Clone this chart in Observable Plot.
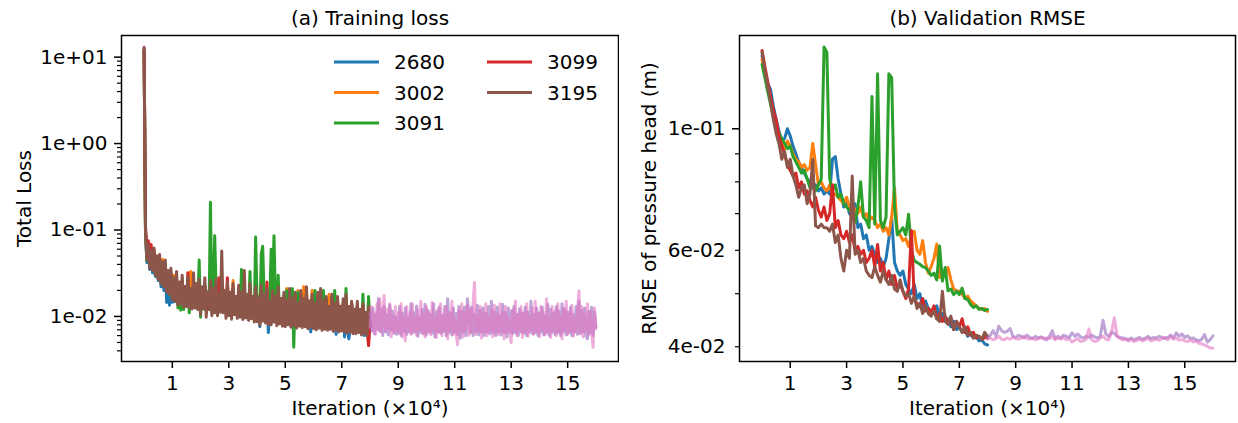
<!DOCTYPE html>
<html>
<head>
<meta charset="utf-8">
<script src="https://cdn.jsdelivr.net/npm/d3@7"></script>
<script src="https://cdn.jsdelivr.net/npm/@observablehq/plot@0.6"></script>
<style>
  body { margin: 0; background: #fff; }
  #wrap { position: relative; width: 1238px; height: 423px; display: flex; background: #fff; }
  #legend { position: absolute; left: 0; top: 0; pointer-events: none; }
</style>
</head>
<body>
<div id="wrap"></div>
<script>
// ---------- data ----------
const seriesNames = ["2680", "3002", "3091", "3099", "3195"];
const seriesColors = ["#1f77b4", "#ff7f0e", "#2ca02c", "#d62728", "#8c564b"];
const extraColors = ["#9467bd", "#e377c2"];

// validation checkpoints (x10^4 iterations)
const iterA = [0,0.1,0.2,0.3,0.4,0.5,0.6,0.7,0.8,0.9,1,1.1,1.2,1.3,1.4,1.5,1.6,1.7,1.8,1.9,2,2.1,2.2,2.3,2.4,2.5,2.6,2.7,2.8,2.9,3,3.1,3.2,3.3,3.4,3.5,3.6,3.7,3.8,3.9,4,4.1,4.2,4.3,4.4,4.5,4.6,4.7,4.8,4.9,5,5.1,5.2,5.3,5.4,5.5,5.6,5.7,5.8,5.9,6,6.1,6.2,6.3,6.4,6.5,6.6,6.7,6.8,6.9,7,7.1,7.2,7.3,7.4,7.5,7.6,7.7,7.8,7.9,8];
const iterB = [8,8.1,8.2,8.3,8.4,8.5,8.6,8.7,8.8,8.9,9,9.1,9.2,9.3,9.4,9.5,9.6,9.7,9.8,9.9,10,10.1,10.2,10.3,10.4,10.5,10.6,10.7,10.8,10.9,11,11.1,11.2,11.3,11.4,11.5,11.6,11.7,11.8,11.9,12,12.1,12.2,12.3,12.4,12.5,12.6,12.7,12.8,12.9,13,13.1,13.2,13.3,13.4,13.5,13.6,13.7,13.8,13.9,14,14.1,14.2,14.3,14.4,14.5,14.6,14.7,14.8,14.9,15,15.1,15.2,15.3,15.4,15.5,15.6,15.7,15.8,15.9,16];
// training-loss log points (x10^4 iterations)
const iterL = [0,0.05,0.1,0.15,0.2,0.25,0.3,0.35,0.4,0.45,0.5,0.55,0.6,0.65,0.7,0.75,0.8,0.85,0.9,0.95,1,1.05,1.1,1.15,1.2,1.25,1.3,1.35,1.4,1.45,1.5,1.55,1.6,1.65,1.7,1.75,1.8,1.85,1.9,1.95,2,2.05,2.1,2.15,2.2,2.25,2.3,2.35,2.4,2.45,2.5,2.55,2.6,2.65,2.7,2.75,2.8,2.85,2.9,2.95,3,3.05,3.1,3.15,3.2,3.25,3.3,3.35,3.4,3.45,3.5,3.55,3.6,3.65,3.7,3.75,3.8,3.85,3.9,3.95,4,4.05,4.1,4.15,4.2,4.25,4.3,4.35,4.4,4.45,4.5,4.55,4.6,4.65,4.7,4.75,4.8,4.85,4.9,4.95,5,5.05,5.1,5.15,5.2,5.25,5.3,5.35,5.4,5.45,5.5,5.55,5.6,5.65,5.7,5.75,5.8,5.85,5.9,5.95,6,6.05,6.1,6.15,6.2,6.25,6.3,6.35,6.4,6.45,6.5,6.55,6.6,6.65,6.7,6.75,6.8,6.85,6.9,6.95,7,7.05,7.1,7.15,7.2,7.25,7.3,7.35,7.4,7.45,7.5,7.55,7.6,7.65,7.7,7.75,7.8,7.85,7.9,7.95,8];
const iterLB = [8,8.05,8.1,8.15,8.2,8.25,8.3,8.35,8.4,8.45,8.5,8.55,8.6,8.65,8.7,8.75,8.8,8.85,8.9,8.95,9,9.05,9.1,9.15,9.2,9.25,9.3,9.35,9.4,9.45,9.5,9.55,9.6,9.65,9.7,9.75,9.8,9.85,9.9,9.95,10,10.05,10.1,10.15,10.2,10.25,10.3,10.35,10.4,10.45,10.5,10.55,10.6,10.65,10.7,10.75,10.8,10.85,10.9,10.95,11,11.05,11.1,11.15,11.2,11.25,11.3,11.35,11.4,11.45,11.5,11.55,11.6,11.65,11.7,11.75,11.8,11.85,11.9,11.95,12,12.05,12.1,12.15,12.2,12.25,12.3,12.35,12.4,12.45,12.5,12.55,12.6,12.65,12.7,12.75,12.8,12.85,12.9,12.95,13,13.05,13.1,13.15,13.2,13.25,13.3,13.35,13.4,13.45,13.5,13.55,13.6,13.65,13.7,13.75,13.8,13.85,13.9,13.95,14,14.05,14.1,14.15,14.2,14.25,14.3,14.35,14.4,14.45,14.5,14.55,14.6,14.65,14.7,14.75,14.8,14.85,14.9,14.95,15,15.05,15.1,15.15,15.2,15.25,15.3,15.35,15.4,15.45,15.5,15.55,15.6,15.65,15.7,15.75,15.8,15.85,15.9,15.95,16];

// (a) training loss
const loss2680 = [12,0.095,0.042,0.06,0.035,0.052,0.032,0.05,0.029,0.045,
 0.026,0.042,0.022,0.04,0.02,0.036,0.0145,0.032,0.0135,0.03,
 0.0145,0.027,0.0148,0.026,0.0142,0.024,0.014,0.025,0.0135,0.022,
 0.0132,0.024,0.013,0.021,0.0128,0.023,0.0128,0.022,0.0125,0.021,
 0.012,0.021,0.0122,0.022,0.0118,0.019,0.012,0.021,0.0115,0.02,
 0.0115,0.021,0.0112,0.019,0.0115,0.02,0.0112,0.019,0.011,0.021,
 0.0105,0.018,0.0104,0.02,0.0106,0.017,0.0102,0.02,0.0104,0.018,
 0.0098,0.02,0.01,0.017,0.0097,0.02,0.0098,0.017,0.0095,0.019,
 0.0093,0.016,0.0076,0.019,0.0093,0.017,0.009,0.018,0.0065,0.015,
 0.0087,0.018,0.009,0.016,0.0087,0.019,0.0088,0.016,0.0085,0.017,
 0.0083,0.015,0.0085,0.018,0.0082,0.016,0.0084,0.017,0.008,0.014,
 0.0082,0.018,0.008,0.016,0.0081,0.017,0.0079,0.015,0.0066,0.016,
 0.0078,0.014,0.0076,0.017,0.0078,0.016,0.0076,0.015,0.0077,0.016,
 0.0075,0.013,0.0076,0.016,0.0074,0.014,0.0062,0.015,0.0073,0.013,
 0.0073,0.014,0.0058,0.015,0.007,0.0055,0.0071,0.014,0.0069,0.012,
 0.0068,0.013,0.007,0.012,0.0067,0.013,0.006,0.011,0.0066,0.012,
 0.008];
const loss3002 = [12,0.1,0.05,0.065,0.04,0.056,0.036,0.052,0.032,0.048,
 0.029,0.045,0.026,0.046,0.024,0.039,0.021,0.034,0.019,0.031,
 0.017,0.03,0.016,0.027,0.015,0.024,0.0145,0.026,0.014,0.022,
 0.0135,0.025,0.0132,0.033,0.013,0.023,0.013,0.022,0.0128,0.021,
 0.012,0.021,0.0125,0.022,0.0118,0.019,0.012,0.021,0.0115,0.02,
 0.0115,0.021,0.0112,0.019,0.0115,0.02,0.0112,0.019,0.011,0.021,
 0.0105,0.018,0.0104,0.026,0.0106,0.017,0.0102,0.02,0.0104,0.018,
 0.0098,0.02,0.01,0.017,0.0097,0.02,0.0098,0.017,0.0095,0.019,
 0.0093,0.016,0.0088,0.019,0.0093,0.017,0.009,0.018,0.0088,0.015,
 0.0087,0.018,0.009,0.016,0.0087,0.019,0.0088,0.016,0.0085,0.017,
 0.0083,0.021,0.0085,0.018,0.0082,0.016,0.0084,0.017,0.008,0.02,
 0.0082,0.018,0.008,0.022,0.0081,0.019,0.0079,0.015,0.008,0.02,
 0.0078,0.014,0.0076,0.017,0.0078,0.018,0.0076,0.015,0.0077,0.016,
 0.0075,0.018,0.0076,0.016,0.0074,0.014,0.0075,0.015,0.0073,0.013,
 0.0073,0.014,0.0071,0.015,0.007,0.013,0.0071,0.014,0.0069,0.012,
 0.0068,0.013,0.007,0.012,0.0067,0.013,0.0068,0.011,0.0066,0.012,
 0.008];
const loss3091 = [12,0.09,0.044,0.062,0.038,0.055,0.034,0.05,0.03,0.046,
 0.028,0.043,0.025,0.041,0.022,0.037,0.02,0.033,0.018,0.03,
 0.016,0.027,0.015,0.026,0.0125,0.024,0.0118,0.025,0.012,0.022,
 0.0135,0.024,0.011,0.021,0.013,0.023,0.013,0.022,0.0128,0.045,
 0.0098,0.021,0.0125,0.022,0.0118,0.019,0.012,0.21,0.0115,0.02,
 0.086,0.021,0.0112,0.019,0.0115,0.02,0.0112,0.019,0.011,0.021,
 0.0105,0.018,0.0104,0.02,0.0106,0.017,0.0102,0.02,0.0104,0.035,
 0.0098,0.02,0.01,0.017,0.0097,0.033,0.0098,0.017,0.0095,0.083,
 0.016,0.017,0.0088,0.053,0.065,0.017,0.009,0.018,0.0088,0.015,
 0.06,0.018,0.086,0.016,0.0087,0.03,0.0088,0.016,0.0085,0.017,
 0.0083,0.02,0.0085,0.018,0.0082,0.021,0.0044,0.017,0.008,0.019,
 0.0082,0.018,0.008,0.016,0.0081,0.017,0.0079,0.015,0.008,0.016,
 0.0078,0.02,0.0076,0.017,0.0078,0.018,0.0076,0.02,0.0077,0.016,
 0.0075,0.013,0.0076,0.016,0.0074,0.02,0.0075,0.015,0.0073,0.013,
 0.0073,0.014,0.0071,0.021,0.007,0.013,0.0071,0.014,0.0069,0.012,
 0.0068,0.013,0.007,0.012,0.0067,0.018,0.0068,0.011,0.0066,0.017,
 0.008];
const loss3099 = [12.5,0.11,0.055,0.075,0.045,0.068,0.04,0.06,0.034,0.05,
 0.03,0.046,0.026,0.042,0.023,0.04,0.021,0.033,0.019,0.031,
 0.017,0.027,0.016,0.028,0.015,0.024,0.0145,0.026,0.014,0.022,
 0.0135,0.032,0.0132,0.021,0.013,0.024,0.013,0.022,0.0128,0.023,
 0.012,0.021,0.0125,0.023,0.0118,0.019,0.012,0.022,0.0115,0.02,
 0.0115,0.022,0.0112,0.028,0.0115,0.02,0.0112,0.019,0.011,0.028,
 0.0105,0.018,0.0104,0.021,0.0106,0.017,0.0102,0.02,0.0104,0.018,
 0.0098,0.02,0.01,0.017,0.0097,0.02,0.0098,0.017,0.0095,0.019,
 0.0093,0.016,0.0088,0.019,0.0093,0.017,0.009,0.025,0.0088,0.015,
 0.0087,0.018,0.009,0.016,0.0087,0.019,0.0088,0.016,0.0085,0.017,
 0.0083,0.015,0.0085,0.018,0.0082,0.016,0.0084,0.017,0.008,0.014,
 0.0082,0.018,0.008,0.016,0.0081,0.019,0.0079,0.015,0.008,0.016,
 0.0078,0.014,0.0076,0.017,0.0078,0.018,0.0076,0.015,0.0077,0.016,
 0.0075,0.013,0.0076,0.016,0.0074,0.014,0.0075,0.015,0.0073,0.013,
 0.0073,0.014,0.0071,0.016,0.007,0.013,0.0071,0.014,0.0069,0.012,
 0.0068,0.013,0.007,0.012,0.0067,0.013,0.0068,0.011,0.0066,0.0046,
 0.008];
const loss3195 = [13,0.1,0.045,0.068,0.036,0.058,0.034,0.062,0.03,0.05,
 0.027,0.052,0.024,0.043,0.022,0.045,0.019,0.034,0.018,0.036,
 0.0155,0.028,0.015,0.033,0.0135,0.025,0.014,0.03,0.0128,0.022,
 0.013,0.029,0.0125,0.021,0.0122,0.032,0.0125,0.024,0.012,0.027,
 0.0105,0.022,0.0125,0.028,0.0098,0.019,0.012,0.026,0.0102,0.021,
 0.011,0.027,0.0102,0.018,0.0112,0.057,0.011,0.02,0.0095,0.025,
 0.0102,0.019,0.0093,0.024,0.0105,0.017,0.0095,0.023,0.0098,0.019,
 0.0092,0.034,0.0096,0.018,0.009,0.024,0.0094,0.017,0.0086,0.022,
 0.0087,0.016,0.0079,0.023,0.0088,0.018,0.0084,0.021,0.008,0.015,
 0.008,0.02,0.0086,0.017,0.0078,0.022,0.0082,0.016,0.0077,0.019,
 0.0076,0.015,0.008,0.021,0.0075,0.016,0.0078,0.019,0.0073,0.014,
 0.0077,0.02,0.0074,0.016,0.0076,0.022,0.0072,0.015,0.0075,0.018,
 0.0072,0.014,0.007,0.019,0.0073,0.021,0.0069,0.015,0.0071,0.017,
 0.0069,0.013,0.0071,0.018,0.0067,0.014,0.0069,0.017,0.0066,0.013,
 0.0068,0.016,0.0066,0.018,0.0064,0.013,0.0066,0.015,0.0063,0.012,
 0.0063,0.015,0.0065,0.012,0.0061,0.014,0.0063,0.011,0.006,0.013,
 0.0075];
const lossPurple = [0.011,0.0068,0.0125,0.0063,0.0105,0.0072,0.016,0.0067,0.012,0.006,
 0.013,0.0066,0.0105,0.0061,0.0135,0.0069,0.0115,0.0064,0.01,0.0062,
 0.0066,0.013,0.006,0.0108,0.0067,0.0125,0.0062,0.0095,0.0066,0.014,
 0.0064,0.011,0.0067,0.0132,0.0059,0.0098,0.0066,0.012,0.0063,0.0138,
 0.0061,0.0118,0.0066,0.0105,0.0064,0.014,0.0058,0.0112,0.0066,0.0128,
 0.0064,0.0102,0.0067,0.013,0.006,0.016,0.0065,0.011,0.0061,0.0125,
 0.0066,0.0108,0.0062,0.013,0.0056,0.0115,0.0066,0.0128,0.006,0.016,
 0.0112,0.0065,0.0128,0.006,0.0105,0.0066,0.0135,0.0061,0.0118,0.0066,
 0.0125,0.006,0.0108,0.0066,0.013,0.0063,0.015,0.0065,0.0112,0.006,
 0.0128,0.0066,0.0102,0.0061,0.0138,0.0065,0.011,0.0058,0.0125,0.0066,
 0.0115,0.0063,0.013,0.0065,0.0105,0.006,0.0122,0.0066,0.0108,0.0064,
 0.0128,0.006,0.0112,0.0066,0.015,0.0063,0.0105,0.0065,0.0125,0.006,
 0.011,0.0066,0.0128,0.0061,0.0102,0.0065,0.0138,0.006,0.012,0.0066,
 0.0108,0.0062,0.013,0.0065,0.0115,0.006,0.014,0.0066,0.0122,0.0061,
 0.0112,0.0065,0.0128,0.006,0.0105,0.0066,0.013,0.0062,0.015,0.0064,
 0.0118,0.0066,0.0125,0.006,0.0055,0.0115,0.0065,0.0128,0.006,0.0112,
 0.0075];
const lossPink = [0.0075,0.013,0.0068,0.011,0.0062,0.014,0.007,0.016,0.0066,0.01,
 0.0175,0.0068,0.012,0.0072,0.014,0.0058,0.01,0.0064,0.013,0.0068,
 0.011,0.0064,0.014,0.0058,0.0095,0.0052,0.013,0.0069,0.011,0.0062,
 0.014,0.0066,0.0098,0.006,0.012,0.0071,0.015,0.0063,0.0105,0.0058,
 0.013,0.0067,0.011,0.0061,0.0145,0.0069,0.0098,0.0057,0.012,0.0066,
 0.014,0.006,0.0105,0.0068,0.013,0.0055,0.011,0.007,0.015,0.0062,
 0.0095,0.0064,0.0047,0.012,0.0068,0.014,0.0058,0.011,0.0071,0.0135,
 0.006,0.012,0.0065,0.014,0.0247,0.0062,0.01,0.0069,0.013,0.0056,
 0.011,0.0066,0.014,0.006,0.0098,0.007,0.012,0.0058,0.0135,0.0065,
 0.0105,0.0061,0.014,0.0068,0.011,0.0055,0.013,0.0066,0.0095,0.0062,
 0.005,0.012,0.0068,0.015,0.006,0.0105,0.007,0.013,0.0057,0.011,
 0.0066,0.014,0.0059,0.01,0.0069,0.0125,0.0062,0.015,0.0066,0.0105,
 0.0058,0.013,0.007,0.011,0.0061,0.016,0.0067,0.0098,0.0057,0.013,
 0.0068,0.0115,0.006,0.014,0.0066,0.01,0.0055,0.0125,0.007,0.015,
 0.0062,0.011,0.0068,0.0135,0.0059,0.0098,0.0066,0.012,0.0198,0.0063,
 0.013,0.0058,0.0105,0.0069,0.014,0.0061,0.0115,0.0065,0.0044,0.0125,
 0.0072];

// (b) validation RMSE (m)
const val2680 = [0.136,0.128,0.121,0.118,0.11,0.104,0.099,0.095,0.096,0.1,
 0.097,0.093,0.09,0.087,0.085,0.083,0.081,0.08,0.078,0.079,
 0.077,0.078,0.076,0.077,0.076,0.088,0.089,0.081,0.076,0.072,
 0.074,0.07,0.069,0.073,0.066,0.067,0.063,0.064,0.06,0.061,
 0.059,0.057,0.058,0.056,0.058,0.063,0.069,0.057,0.055,0.054,
 0.055,0.052,0.051,0.05,0.052,0.049,0.05,0.047,0.0485,0.047,
 0.0465,0.046,0.0475,0.045,0.046,0.0445,0.045,0.0435,0.0445,0.043,
 0.0435,0.0425,0.043,0.0418,0.0423,0.0415,0.0418,0.041,0.0412,0.0405,
 0.0403];
const val3002 = [0.134,0.126,0.12,0.113,0.107,0.1,0.096,0.094,0.092,0.095,
 0.093,0.09,0.088,0.087,0.085,0.086,0.084,0.085,0.094,0.086,
 0.079,0.08,0.078,0.077,0.079,0.076,0.076,0.075,0.074,0.073,
 0.075,0.072,0.073,0.071,0.07,0.072,0.069,0.07,0.068,0.069,
 0.068,0.066,0.067,0.065,0.066,0.064,0.069,0.078,0.065,0.064,
 0.0625,0.063,0.061,0.064,0.065,0.06,0.059,0.0625,0.057,0.0545,
 0.056,0.058,0.0616,0.0535,0.055,0.054,0.0558,0.053,0.051,0.0506,
 0.0505,0.05,0.049,0.0495,0.0485,0.048,0.0475,0.047,0.0468,0.047,
 0.0464];
const val3091 = [0.131,0.124,0.117,0.111,0.105,0.1,0.098,0.096,0.094,0.092,
 0.093,0.089,0.087,0.085,0.083,0.084,0.081,0.078,0.08,0.077,
 0.079,0.081,0.141,0.138,0.081,0.077,0.079,0.075,0.076,0.073,
 0.072,0.071,0.07,0.0675,0.072,0.08,0.069,0.068,0.066,0.1145,
 0.067,0.126,0.068,0.066,0.069,0.126,0.124,0.072,0.064,0.065,
 0.066,0.064,0.0698,0.06,0.0575,0.057,0.0566,0.056,0.0558,0.055,
 0.054,0.0545,0.053,0.0611,0.0527,0.0558,0.0506,0.051,0.0498,0.0505,
 0.0498,0.0512,0.049,0.0488,0.0478,0.0472,0.0475,0.0468,0.047,0.0466,
 0.0468];
const val3099 = [0.139,0.13,0.122,0.115,0.108,0.104,0.097,0.093,0.09,0.086,
 0.084,0.082,0.083,0.078,0.08,0.076,0.077,0.074,0.072,0.075,
 0.071,0.069,0.072,0.068,0.07,0.079,0.066,0.068,0.064,0.063,
 0.065,0.062,0.064,0.06,0.061,0.059,0.06,0.057,0.058,0.06,
 0.056,0.0615,0.055,0.057,0.053,0.055,0.052,0.054,0.051,0.052,
 0.0505,0.049,0.051,0.0652,0.049,0.048,0.0475,0.049,0.0465,0.047,
 0.046,0.0475,0.045,0.046,0.0445,0.0455,0.044,0.045,0.043,0.0445,
 0.0435,0.045,0.0425,0.0435,0.042,0.0425,0.0415,0.0418,0.0413,0.0416,
 0.0415];
const val3195 = [0.138,0.128,0.12,0.112,0.104,0.098,0.094,0.088,0.091,0.085,
 0.088,0.082,0.079,0.075,0.078,0.079,0.073,0.076,0.088,0.0665,
 0.066,0.067,0.066,0.066,0.065,0.067,0.062,0.064,0.058,0.055,
 0.06,0.058,0.082,0.059,0.06,0.057,0.058,0.055,0.054,0.0535,
 0.056,0.054,0.0525,0.055,0.053,0.052,0.054,0.051,0.0505,0.053,
 0.0505,0.0495,0.05,0.048,0.0495,0.047,0.048,0.046,0.0475,0.046,
 0.0455,0.0465,0.045,0.0445,0.0505,0.0445,0.044,0.0455,0.043,0.0445,
 0.0435,0.0425,0.0435,0.042,0.0425,0.0415,0.042,0.0418,0.0412,0.0425,
 0.0418];
const valPurple = [0.0415,0.042,0.0428,0.0418,0.0436,0.0428,0.0425,0.0427,0.0432,0.0418,
 0.0416,0.042,0.0418,0.0415,0.042,0.0416,0.0414,0.0418,0.0415,0.0417,
 0.0415,0.0412,0.0418,0.0428,0.0414,0.0418,0.0415,0.042,0.0418,0.0416,
 0.0424,0.0418,0.0422,0.0417,0.0415,0.0418,0.0416,0.042,0.0417,0.0415,
 0.0418,0.0447,0.0422,0.0418,0.0425,0.0423,0.0418,0.0416,0.0415,0.0414,
 0.0412,0.0415,0.0412,0.0414,0.0416,0.0413,0.0415,0.0418,0.0414,0.0416,
 0.0415,0.0418,0.0416,0.0414,0.0416,0.042,0.0415,0.0424,0.0418,0.0422,
 0.0416,0.0419,0.0414,0.0415,0.0412,0.041,0.0413,0.0421,0.0408,0.0412,
 0.0419];
const valPink = [0.0413,0.0415,0.0412,0.0414,0.0418,0.0413,0.0412,0.0415,0.0413,0.0416,
 0.0414,0.0413,0.0415,0.0418,0.0414,0.0413,0.0415,0.0412,0.0414,0.0416,
 0.0413,0.0415,0.0414,0.0418,0.0412,0.0415,0.0413,0.0416,0.0412,0.0414,
 0.0408,0.0411,0.0414,0.0409,0.041,0.0413,0.0431,0.0412,0.0409,0.041,
 0.0415,0.0418,0.0413,0.0412,0.0425,0.0452,0.0418,0.0414,0.0412,0.0413,
 0.041,0.0412,0.0409,0.0411,0.0413,0.041,0.0412,0.0415,0.041,0.0412,
 0.0413,0.0411,0.0414,0.0416,0.0412,0.0418,0.0413,0.0415,0.0411,0.0413,
 0.041,0.0409,0.0412,0.0408,0.041,0.0406,0.0405,0.0403,0.0401,0.0398,
 0.0398];

// ticks
const xTicks = [1,3,5,7,9,11,13,15];
const lossMajor = [0.01,0.1,1,10];
const lossMinor = [0.004,0.005,0.006,0.007,0.008,0.009,0.02,0.03,0.04,0.05,0.06,0.07,0.08,0.09,0.2,0.3,0.4,0.5,0.6,0.7,0.8,0.9,2,3,4,5,6,7,8,9];
const rmseMajor = [0.1];
const rmseMinorLabeled = [0.04,0.06];
const rmseMinor = [0.05,0.07,0.08,0.09];

const titles = ["(a) Training loss", "(b) Validation RMSE"];
const xLabel = "Iteration (×10⁴)";
const yLabels = ["Total Loss", "RMSE of pressure head (m)"];

// ---------- helpers ----------
const sci = v => { const [m, e] = v.toExponential(0).split("e"); return `${m}e${e[0]}${e.slice(1).padStart(2, "0")}`; };
const rows = (xs, ys) => xs.map((x, i) => ({x, y: ys[i]}));
const FONT = "DejaVu Sans";

function panel({main, extra, xsMain, xsExtra, yDomain, majors, minorsLabeled, minors, title, yLabel, marginLeft, marginRight, yLabelDx}) {
  const marks = [];
  main.forEach((arr, i) => marks.push(Plot.line(rows(xsMain, arr), {x: "x", y: "y", stroke: seriesColors[i], strokeWidth: 3, strokeLinejoin: "round"})));
  extra.forEach((arr, i) => marks.push(Plot.line(rows(xsExtra, arr), {x: "x", y: "y", stroke: extraColors[i], strokeOpacity: 0.6, strokeWidth: 3, strokeLinejoin: "round"})));
  marks.push(Plot.frame({stroke: "#000", strokeWidth: 1.5}));
  marks.push(Plot.axisX(xTicks, {tickSize: 7, tickPadding: 7.5, strokeWidth: 1.5, label: null, fontSize: 20}));
  marks.push(Plot.axisY(majors, {tickSize: 7, tickPadding: 7, strokeWidth: 1.5, tickFormat: sci, label: null, fontSize: 20}));
  if (minorsLabeled.length) marks.push(Plot.axisY(minorsLabeled, {tickSize: 4, tickPadding: 10, strokeWidth: 1.2, tickFormat: sci, label: null, fontSize: 20}));
  marks.push(Plot.axisY(minors, {tickSize: 4, strokeWidth: 1.2, tickFormat: () => "", label: null}));
  marks.push(Plot.text([title], {text: d => d, frameAnchor: "top", lineAnchor: "bottom", dy: -11, fontSize: 20}));
  marks.push(Plot.text([xLabel], {text: d => d, frameAnchor: "bottom", lineAnchor: "bottom", dy: 53, fontSize: 20}));
  marks.push(Plot.text([yLabel], {text: d => d, frameAnchor: "left", textAnchor: "middle", lineAnchor: "middle", rotate: -90, dx: yLabelDx, fontSize: 20}));
  return Plot.plot({
    width: 619, height: 423,
    marginLeft, marginRight, marginTop: 35, marginBottom: 62,
    style: {fontFamily: FONT, fontSize: "20px", color: "#000", background: "#fff"},
    x: {type: "linear", domain: [-0.8, 16.8]},
    y: {type: "log", domain: yDomain},
    marks
  });
}

const wrap = document.getElementById("wrap");
wrap.append(panel({
  main: [loss2680, loss3002, loss3091, loss3099, loss3195],
  extra: [lossPurple, lossPink], xsMain: iterL, xsExtra: iterLB,
  yDomain: [0.00301, 17.8], majors: lossMajor, minorsLabeled: [], minors: lossMinor,
  title: titles[0], yLabel: yLabels[0], marginLeft: 121, marginRight: 1, yLabelDx: -97
}));
wrap.append(panel({
  main: [val2680, val3002, val3091, val3099, val3195],
  extra: [valPurple, valPink], xsMain: iterA, xsExtra: iterB,
  yDomain: [0.0376, 0.148], majors: rmseMajor, minorsLabeled: rmseMinorLabeled, minors: rmseMinor,
  title: titles[1], yLabel: yLabels[1], marginLeft: 120, marginRight: 3, yLabelDx: -90
}));

// legend (inside panel a, upper right, two columns)
const legendPos = [[334, 62], [334, 92.5], [334, 123], [487, 62], [487, 92.5]];
const ns = "http://www.w3.org/2000/svg";
const lg = document.createElementNS(ns, "svg");
lg.setAttribute("id", "legend");
lg.setAttribute("width", 1238); lg.setAttribute("height", 423);
seriesNames.forEach((name, i) => {
  const [lx, ly] = legendPos[i];
  const ln = document.createElementNS(ns, "line");
  ln.setAttribute("x1", lx); ln.setAttribute("x2", lx + 45);
  ln.setAttribute("y1", ly); ln.setAttribute("y2", ly);
  ln.setAttribute("stroke", seriesColors[i]); ln.setAttribute("stroke-width", 3);
  lg.append(ln);
  const t = document.createElementNS(ns, "text");
  t.setAttribute("x", lx + 60); t.setAttribute("y", ly + 7.3);
  t.setAttribute("font-family", FONT); t.setAttribute("font-size", 20);
  t.textContent = name;
  lg.append(t);
});
wrap.append(lg);
</script>
</body>
</html>
